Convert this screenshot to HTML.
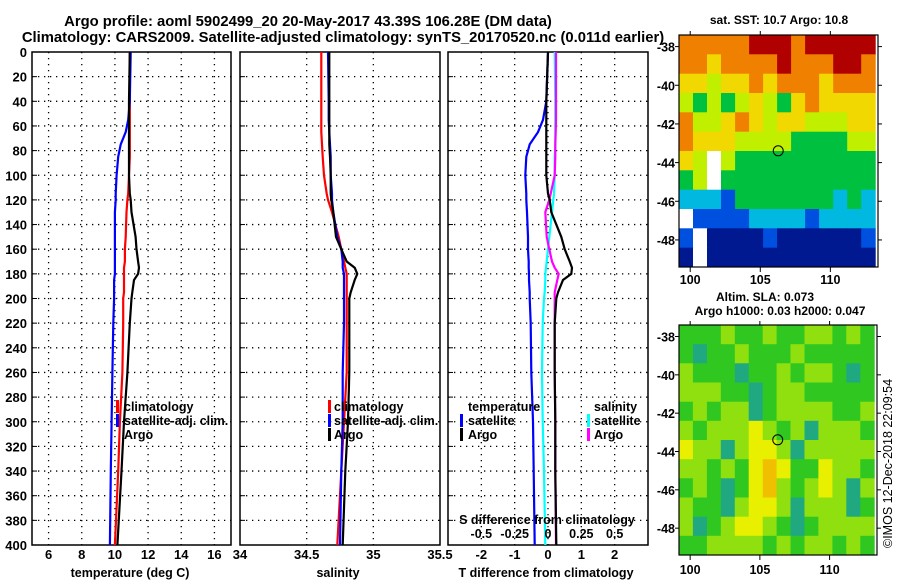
<!DOCTYPE html>
<html><head><meta charset="utf-8">
<style>
html,body{margin:0;padding:0;background:#fff;}
svg{display:block;font-family:"Liberation Sans",sans-serif;font-weight:bold;}
</style></head>
<body>
<svg id="fig" width="900" height="580" xmlns="http://www.w3.org/2000/svg">
<text x="308" y="26" font-size="14.8" text-anchor="middle">Argo profile: aoml 5902499_20 20-May-2017 43.39S 106.28E (DM data)</text>
<text x="343" y="42" font-size="14.8" text-anchor="middle">Climatology: CARS2009. Satellite-adjusted climatology: synTS_20170520.nc (0.011d earlier)</text>
<g id="p1"></g>
<g id="p2"></g>
<g id="p3"></g>
<g id="m1"></g>
<g id="m2"></g>
<text x="779" y="24" font-size="12" text-anchor="middle">sat. SST: 10.7 Argo: 10.8</text>
<text x="765" y="301" font-size="12" text-anchor="middle">Altim. SLA: 0.073</text>
<text x="780" y="315" font-size="12" text-anchor="middle">Argo h1000: 0.03 h2000: 0.047</text>
<text x="0" y="0" font-size="12.5" font-weight="normal" transform="translate(892,548) rotate(-90)">©IMOS 12-Dec-2018 22:09:54</text>
</svg>
<script>
// ---- data ----
const depthTicks=[0,20,40,60,80,100,120,140,160,180,200,220,240,260,280,300,320,340,360,380,400];
const tempTicks=[6,8,10,12,14,16];
const salTicks=[34,34.5,35,35.5];
const tdiffTicks=[-2,-1,0,1,2];
const sdiffTicks=[-0.5,-0.25,0,0.25,0.5];
const sdiffLabels=["-0.5","-0.25","0","0.25","0.5"];
const profDepth=[0,40,55,65,75,85,100,115,120,130,150,160,170,175,180,185,195,200,220,260,300,340,400];
const tArgo=[10.9,10.85,10.85,10.85,10.85,10.85,10.85,10.9,10.95,11.0,11.25,11.3,11.4,11.45,11.4,11.15,11.05,11.0,10.9,10.75,10.55,10.4,10.15];
const tSat=[10.95,10.9,10.8,10.65,10.35,10.2,10.1,10.05,10.05,10.0,10.0,10.0,10.0,10.0,10.0,9.95,9.95,9.95,9.9,9.85,9.8,9.75,9.7];
const tClim=[10.9,10.9,10.9,10.9,10.9,10.9,10.85,10.8,10.75,10.7,10.65,10.6,10.6,10.55,10.55,10.55,10.55,10.5,10.5,10.45,10.3,10.2,10.0];
const sArgo=[34.67,34.67,34.67,34.67,34.67,34.675,34.68,34.68,34.685,34.7,34.72,34.76,34.8,34.86,34.88,34.86,34.83,34.82,34.82,34.82,34.81,34.79,34.77];
const sSat=[34.66,34.665,34.665,34.67,34.675,34.68,34.68,34.69,34.69,34.7,34.73,34.76,34.77,34.77,34.78,34.78,34.78,34.78,34.78,34.77,34.77,34.76,34.75];
const sClim=[34.61,34.61,34.61,34.61,34.615,34.62,34.63,34.65,34.66,34.69,34.74,34.76,34.78,34.79,34.8,34.8,34.8,34.8,34.8,34.8,34.78,34.76,34.73];
const dTArgo=[0,-0.05,-0.05,-0.05,-0.05,-0.05,-0.05,0,0.05,0.1,0.4,0.5,0.65,0.72,0.7,0.45,0.3,0.25,0.2,0.2,0.22,0.22,0.25];
const dTSat=[0,-0.05,-0.15,-0.3,-0.55,-0.65,-0.68,-0.65,-0.65,-0.63,-0.6,-0.6,-0.58,-0.58,-0.57,-0.57,-0.55,-0.55,-0.52,-0.5,-0.45,-0.43,-0.4];
const dSSat=[0.05,0.055,0.055,0.055,0.055,0.05,0.05,0.045,0.04,0.03,0.01,0,-0.01,-0.015,-0.02,-0.02,-0.025,-0.03,-0.04,-0.045,-0.04,-0.03,-0.02];
const dSArgo=[0.06,0.06,0.06,0.058,0.055,0.055,0.05,0.02,0.01,-0.02,-0.01,0.01,0.03,0.05,0.08,0.07,0.05,0.05,0.05,0.05,0.055,0.055,0.06];
const lonTicks=[100,105,110];
const latTicks=[-38,-40,-42,-44,-46,-48];
const sstRows=["OOOOORRRORRRRR","OOYOOOOROOORRO","YYLYYOYOOOYOOO","LGLGLYLGYOYYYY","OLLYOYLYYLLLYY","OYYYLLLLGGGGLL","YLWLGGGGGGGGGG","GLWGGGGGGGGGGG","CCCBGGGGGGGCGC","WBBBBCCCCBCCCC","BWNNNNBNNNNNNB","NWNNNNNNNNNNNN"];
const slaRows=["GGGLGGLGGLLGLG","GTGGLGGGLGGGGG","LGGGTGGLGLLGTG","LLLGGTGLLGGGGG","GLGLLTGLLLLGGL","LGLLLYLGLTLLLG","YLLTLYYLTLLLLL","LLGLGYOYGGYLLG","GLGTGYOLGLYLTL","LGGTLYYLTLLLTG","LTGLYYLGTGLLLL","GGLLLLGLGLLGLG"];
const argoLon=106.28, argoLat=-43.39;
// ---- helpers ----
const NS="http://www.w3.org/2000/svg";
function mk(parent,tag,attrs){const e=document.createElementNS(NS,tag);for(const k in attrs)e.setAttribute(k,attrs[k]);parent.appendChild(e);return e;}
const Y0=52,Y1=545;
const yD=d=>Y0+(d/400)*(Y1-Y0);
function lin(d0,d1,r0,r1){return v=>r0+(v-d0)/(d1-d0)*(r1-r0);}
function frame(g,x0,x1,xs,xticks,xlabels,ylab){
  depthTicks.forEach((d,i)=>{const y=yD(d);
    if(i>0&&i<depthTicks.length-1){const l=mk(g,'line',{x1:x0,x2:x1,y1:y,y2:y,stroke:'#000','stroke-width':1.3,'stroke-dasharray':'1.3,4.7'});
      
      }
    const t1=mk(g,'line',{x1:x0,x2:x0+5,y1:y,y2:y,stroke:'#000'});
    
    
    if(ylab){const t=mk(g,'text',{x:x0-5,y:y+5,'font-size':13,'text-anchor':'end'});t.textContent=d;
      
      }
  });
  xticks.forEach((v,i)=>{const x=xs(v);
    if(x>x0+2&&x<x1-2){const l=mk(g,'line',{x1:x,x2:x,y1:Y0,y2:Y1,stroke:'#000','stroke-width':1.3,'stroke-dasharray':'1.3,4.7'});
      
      }
    if(xlabels){const t=mk(g,'text',{x:x,y:559,'font-size':13,'text-anchor':'middle'});t.textContent=xlabels[i];
      
      }
  });
  const r=mk(g,'rect',{x:x0,y:Y0,width:x1-x0,height:Y1-Y0,fill:'none',stroke:'#000','stroke-width':1.5});
  
  
}
function series(g,xs,vals,color,name){
  const pts=profDepth.map((d,i)=>xs(vals[i]).toFixed(1)+','+yD(d).toFixed(1)).join(' ');
  const p=mk(g,'polyline',{points:pts,fill:'none',stroke:color,'stroke-width':2.2});
  
  
}
function txt(g,x,y,s,name,anchor){const t=mk(g,'text',{x:x,y:y,'font-size':12.5,'text-anchor':anchor||'start'});t.textContent=s;
  
  return t;}
function legBar(g,x,y,color,name){const r=mk(g,'rect',{x:x,y:y-11,width:3,height:13,fill:color});
  
  }
// ---- panel 1 ----
const p1=document.getElementById('p1');
const xT=lin(5,17,32,231);
frame(p1,32,231,xT,tempTicks,tempTicks.map(String),true);
series(p1,xT,tClim,'#f00','temp-climatology-line');
series(p1,xT,tSat,'#00f','temp-satellite-line');
series(p1,xT,tArgo,'#000','temp-argo-line');
legBar(p1,116,411,'#f00','legend-climatology-marker');
legBar(p1,116,425,'#00f','legend-satellite-marker');
txt(p1,124,411,'climatology','legend-climatology');
txt(p1,124,425,'satellite-adj. clim.','legend-satellite-adj');
txt(p1,124,439,'Argo','legend-argo');
txt(p1,130,577,'temperature (deg C)','x-axis-title-temperature','middle');
// ---- panel 2 ----
const p2=document.getElementById('p2');
const xS=lin(34,35.5,240,440);
frame(p2,240,440,xS,salTicks,["34","34.5","35","35.5"],false);
series(p2,xS,sClim,'#f00','sal-climatology-line');
series(p2,xS,sSat,'#00f','sal-satellite-line');
series(p2,xS,sArgo,'#000','sal-argo-line');
legBar(p2,328,411,'#f00','legend-climatology-marker');
legBar(p2,328,425,'#00f','legend-satellite-marker');
legBar(p2,328,439,'#000','legend-argo-marker');
txt(p2,334,411,'climatology','legend-climatology');
txt(p2,334,425,'satellite-adj. clim.','legend-satellite-adj');
txt(p2,334,439,'Argo','legend-argo');
txt(p2,338,577,'salinity','x-axis-title-salinity','middle');
// ---- panel 3 ----
const p3=document.getElementById('p3');
const xD=lin(-3,3,448,648);
const xSD=lin(-0.75,0.75,448,648);
frame(p3,448,648,xD,tdiffTicks,["-2","-1","0","1","2"],false);
series(p3,xD,dTSat,'#00f','tdiff-satellite-line');
series(p3,xSD,dSSat,'#0ff','sdiff-satellite-line');
series(p3,xSD,dSArgo,'#f0f','sdiff-argo-line');
series(p3,xD,dTArgo,'#000','tdiff-argo-line');
txt(p3,468,411,'temperature','legend-temperature-header');
legBar(p3,460,425,'#00f','legend-t-satellite-marker');
legBar(p3,460,439,'#000','legend-t-argo-marker');
txt(p3,468,425,'satellite','legend-t-satellite');
txt(p3,468,439,'Argo','legend-t-argo');
txt(p3,594,411,'salinity','legend-salinity-header');
legBar(p3,587,425,'#0ff','legend-s-satellite-marker');
legBar(p3,587,439,'#f0f','legend-s-argo-marker');
txt(p3,594,425,'satellite','legend-s-satellite');
txt(p3,594,439,'Argo','legend-s-argo');
txt(p3,547,524,'S difference from climatology','s-diff-axis-title','middle');
sdiffTicks.forEach((v,i)=>{txt(p3,xSD(v),538,sdiffLabels[i],'s-diff-tick-label','middle');});
txt(p3,546,577,'T difference from climatology','x-axis-title-tdiff','middle');
// ---- maps ----
const sstCol={R:'#b00000',O:'#f08000',Y:'#f0d800',L:'#c0f000',G:'#00c040',C:'#00b8e0',B:'#0050e0',N:'#001890',W:'#ffffff'};
const slaCol={G:'#30c820',L:'#90e010',Y:'#e8f000',O:'#f0c000',T:'#20a880'};
function map(id,rows,cols,x0,x1,y0,y1,labY){
  const g=document.getElementById(id);
  const lonS=lin(99.2,113.4,x0,x1), latS=lin(-37.4,-49.4,y0,y1);
  rows.forEach((row,r)=>{for(let c=0;c<row.length;c++){
    const xa=lonS(99.2+c),xb=lonS(99.2+c+1),ya=latS(-37.4-r),yb=latS(-37.4-r-1);
    const e=mk(g,'rect',{x:xa.toFixed(1),y:ya.toFixed(1),width:(xb-xa+0.5).toFixed(1),height:(yb-ya+0.5).toFixed(1),fill:cols[row[c]]});
    
    
  }});
  const fr=mk(g,'rect',{x:x0,y:y0,width:x1-x0,height:y1-y0,fill:'none',stroke:'#000','stroke-width':1.2});
  
  
  lonTicks.forEach(v=>{const x=lonS(v);
    mk(g,'line',{x1:x,x2:x,y1:y1,y2:y1+5,stroke:'#000'});
    mk(g,'line',{x1:x,x2:x,y1:y0,y2:y0-4,stroke:'#000'});
    txt(g,x,labY,String(v),'lon-tick-label','middle');});
  latTicks.forEach(v=>{const y=latS(v);
    mk(g,'line',{x1:x0-4,x2:x0,y1:y,y2:y,stroke:'#000'});
    mk(g,'line',{x1:x1,x2:x1+4,y1:y,y2:y,stroke:'#000'});
    txt(g,x0-4,y+5,String(v),'lat-tick-label','end');});
  const c=mk(g,'circle',{cx:lonS(argoLon),cy:latS(argoLat),r:5,fill:'none',stroke:'#000','stroke-width':1});
  
  
}
map('m1',sstRows,sstCol,679,878,35,267,284);
map('m2',slaRows,slaCol,679,877,325,555,574);
</script>
</body></html>
